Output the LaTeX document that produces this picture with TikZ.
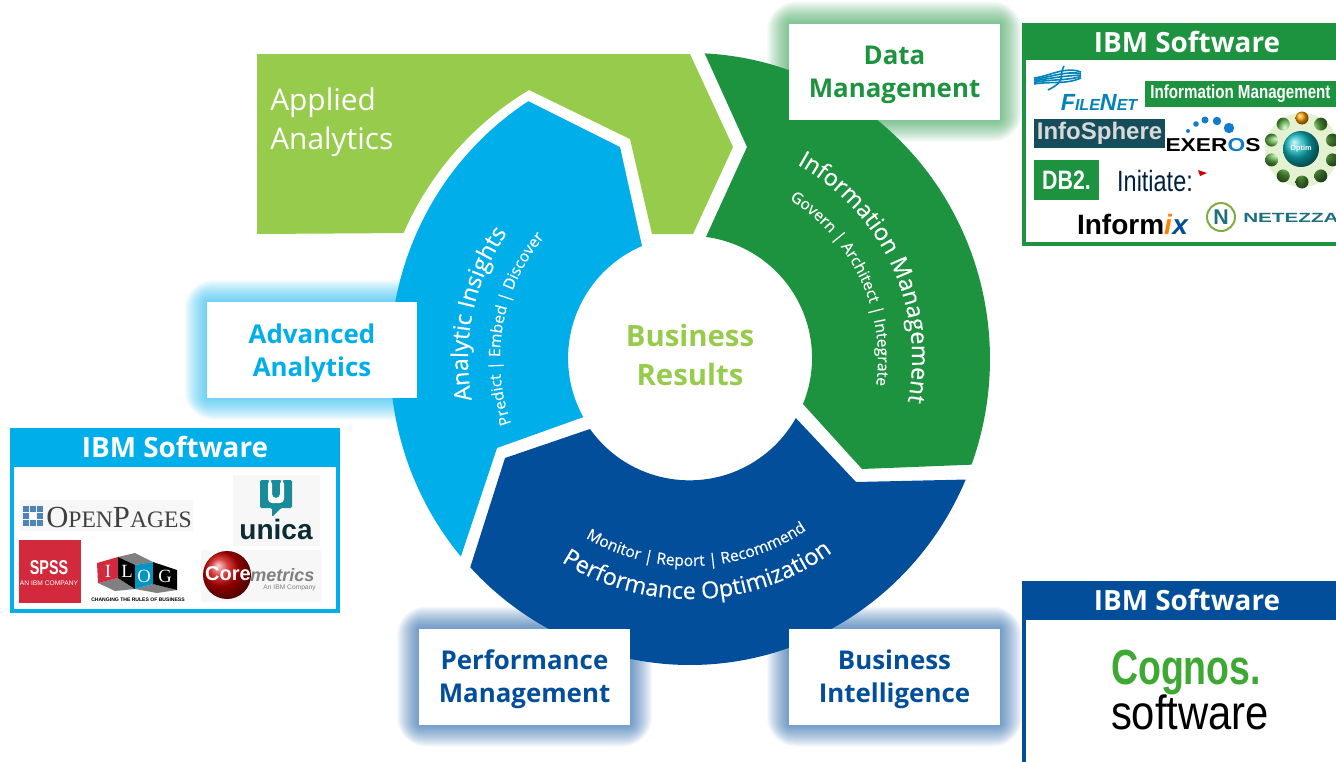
\documentclass[tikz,border=0pt]{standalone}
\usepackage{fontspec}
\setmainfont{Open Sans}
\newfontfamily\logoSans{Liberation Sans}
\newfontfamily\logoSerif{Liberation Serif}
\newfontfamily\arcFont{Open Sans}[FakeBold=0.35]
\usetikzlibrary{decorations.text}
\definecolor{colorLime}{RGB}{151, 203, 76}
\definecolor{colorGreen}{RGB}{29, 147, 64}
\definecolor{colorSky}{RGB}{0, 174, 234}
\definecolor{colorNavy}{RGB}{3, 78, 155}
\definecolor{colorTeal}{RGB}{30, 111, 128}
\definecolor{colorRed}{RGB}{210, 41, 60}
\newcommand{\arcBig}{\color{white}\arcFont\fontsize{17.5}{18}\selectfont}
\newcommand{\arcSmall}{\color{white}\arcFont\fontsize{11.7}{12}\selectfont}
\tikzstyle{labelbox} = [rectangle, fill=white, minimum width=158pt, minimum height=72pt, inner sep=0pt, text depth=0pt, align=center, font=\fontsize{19.4}{24.75}\selectfont\bfseries]
\tikzstyle{header} = [text=white, inner sep=0pt, font=\fontsize{20.9}{24}\selectfont\bfseries]
\tikzstyle{logobox} = [inner sep=0pt, font=\logoSans\bfseries]
\tikzstyle{arctext} = [decorate, decoration={text along path, text align=center, text format delimiters={<}{>}}]
\begin{document}
\begin{tikzpicture}[x=0.75pt, y=-0.75pt]

	\useasboundingbox (0,0) rectangle (1336,761);
	\clip (0,0) rectangle (1336,761);
	\coordinate (ctr) at (690,359);

	% applied analytics arrow
	\fill[colorLime] (257,54) -- (690,54) -- (733,147) -- (693,234) -- (652,234) -- (630,139) -- (529,90)
		arc[start angle=239, end angle=203.5, radius=312] -- (257,234) -- cycle;

	% the three ring segments
	\fill[colorGreen] (ctr) ++(-87.2:300 and 306) arc[start angle=-87.2, end angle=20.2, x radius=300, y radius=306]
		-- (862,469) -- (803,404) arc[start angle=22.2, end angle=-82.5, radius=122] -- (747,147) -- cycle;
	\fill[colorNavy] (ctr) ++(23.2:300 and 306) arc[start angle=23.2, end angle=137.1, x radius=300, y radius=306]
		-- (505,458) -- (590,429) arc[start angle=144.6, end angle=29.3, radius=122] -- (856,482) -- cycle;
	\fill[colorSky] (ctr) ++(139.8:300 and 306) arc[start angle=139.8, end angle=237.4, x radius=300, y radius=306]
		-- (620,147) -- (642,246) arc[start angle=246.8, end angle=151.1, radius=122] -- (497,448) -- cycle;

	% text on the ring
	\path[arctext, shift={(ctr)}, decoration={text={<\arcBig>Information Management}}]
		(-85:222) arc[start angle=-85, end angle=35, radius=222];
	\path[arctext, shift={(ctr)}, decoration={text={<\arcSmall>Govern | Architect | Integrate}}]
		(-85:188) arc[start angle=-85, end angle=35, radius=188];
	\path[arctext, shift={(ctr)}, decoration={text={<\arcBig>Analytic Insights}}]
		(132:222) arc[start angle=132, end angle=252, radius=222];
	\path[arctext, shift={(ctr)}, decoration={text={<\arcSmall>Predict | Embed | Discover}}]
		(130:190) arc[start angle=130, end angle=250, radius=190];
	\path[arctext, shift={(ctr)}, decoration={text={<\arcBig>Performance Optimization}}]
		(148:240) arc[start angle=148, end angle=28, radius=240];
	\path[arctext, shift={(ctr)}, decoration={text={<\arcSmall>Monitor | Report | Recommend}}]
		(148:207) arc[start angle=148, end angle=28, radius=207];

	% centre
	\node (nResults) [text=colorLime, align=center, inner sep=0pt, font=\fontsize{22}{29.5}\selectfont\bfseries] at (690,355) {Business \\ Results};
	\node (nApplied) [text=white, align=left, anchor=west, inner sep=0pt, font=\fontsize{22.4}{29.5}\selectfont] at (270,122) {Applied \\ Analytics};

	% glow behind the label boxes
	\foreach \cx/\cy/\cc in {894.5/71.5/colorGreen, 312/350/colorSky, 524.5/676.5/colorNavy, 894.5/676.5/colorNavy}
		\foreach \k [evaluate=\k as \g using 1+\k*\k/27] in {1,...,22}
			\fill[\cc, opacity=0.035, rounded corners=\g] (\cx,\cy) ++(-105.5-\g,-48-\g) rectangle ++(211+2*\g,96+2*\g);

	\node (bData) [labelbox, text=colorGreen] at (894.5,71.5) {Data \\ Management};
	\node (bAdvanced) [labelbox, text=colorSky] at (312,350) {Advanced \\ Analytics};
	\node (bPerformance) [labelbox, text=colorNavy] at (524.5,676.5) {Performance \\ Management};
	\node (bBusiness) [labelbox, text=colorNavy] at (894.5,676.5) {Business \\ Intelligence};

	% ibm software panels
	\draw[colorGreen, line width=3pt, fill=white] (1024,25) rectangle (1346,244);
	\fill[colorGreen] (1022,23) rectangle (1346,60);
	\node (hGreen) [header] at (1187,42) {IBM Software};
	\draw[colorSky, line width=3pt, fill=white] (12,430) rectangle (338,611);
	\fill[colorSky] (10,428) rectangle (340,467);
	\node (hSky) [header] at (175,447) {IBM Software};
	\draw[colorNavy, line width=3pt, fill=white] (1024,583) rectangle (1346,771);
	\fill[colorNavy] (1022,581) rectangle (1346,620);
	\node (hNavy) [header] at (1187,600) {IBM Software};

	% cognos
	\node (lCognos) [logobox, text=colorGreen!80!lime, font=\logoSans\bfseries\fontsize{37}{37}\selectfont] at (1186,672) {\scalebox{.76}[1]{Cognos.}};
	\node (lSoftware) [logobox, text=black, font=\logoSans\fontsize{36}{36}\selectfont] at (1190,712) {\scalebox{.87}[1]{software}};

	% information management logos
	\foreach \dy/\bend in {-6/4, -3/2, 0/0, 3/-2, 6/-3}
		\draw[colorNavy!70!cyan, line width=1.2pt] (1034,81+\dy/2) .. controls (1050,78+\dy+\bend) and (1065,76+\dy-\bend) .. (1081,75+\dy/2);
	\draw[colorNavy!70!cyan, line width=1.2pt] (1064,66) .. controls (1058,76) and (1068,80) .. (1048,90);
	\node (lFileNet) [logobox, text=colorNavy!70!cyan, font=\logoSans\bfseries\itshape\fontsize{12}{12}\selectfont] at (1099,102) {{\fontsize{17.5}{17.5}\selectfont F}ILE{\fontsize{17.5}{17.5}\selectfont N}ET};
	\node (lInfoMgmt) [logobox, fill=colorGreen, text=white, minimum width=143pt, minimum height=19.5pt, font=\logoSans\bfseries\fontsize{14.2}{14.2}\selectfont] at (1240.5,94) {\scalebox{.8}[1]{Information Management}};
	\node (lInfoSphere) [logobox, fill=colorTeal!70!black, text=white!85!black, minimum width=98pt, minimum height=22pt, font=\logoSans\bfseries\fontsize{18}{18}\selectfont] at (1099.5,133.5) {InfoSphere};
	\node (lExeros) [logobox, text=black, font=\logoSans\bfseries\fontsize{14}{14}\selectfont] at (1213,145) {\scalebox{1.22}[1]{EXER\textcolor{cyan!60!blue}{O}S}};
	\foreach \px/\py/\pr in {1188/131/2, 1196/124/2.8, 1205/120/3.5, 1217/121/4.2, 1229/128/5.2}
		\fill[cyan!60!blue] (\px,\py) circle[radius=\pr];
	\fill[colorLime!25] (1302,150) circle[radius=37];
	\foreach \a in {-54,-18,...,234}
		\shade[ball color=colorLime!55!colorGreen] (1302,150) ++(\a:32) circle[radius=6.5];
	\shade[ball color=orange!80!yellow] (1302,118) circle[radius=6.5];
	\shade[ball color=colorTeal!50!cyan] (1301,149) circle[radius=18];
	\node (lOptim) [logobox, text=white, font=\logoSans\bfseries\fontsize{5.5}{5.5}\selectfont] at (1301,149) {Optim};
	\node (lDB) [logobox, fill=colorGreen, text=white, minimum width=49pt, minimum height=30pt, font=\logoSans\bfseries\fontsize{20}{20}\selectfont] at (1066.5,180) {\scalebox{.8}[1]{DB2.}};
	\node (lInitiate) [logobox, text=colorNavy!40!black, font=\logoSans\fontsize{22}{22}\selectfont] at (1155,181) {\scalebox{.8}[1]{Initiate:}};
	\fill[red!80!black] (1198,170) -- (1207,173) -- (1200,176) -- cycle;
	\node (lInformix) [logobox, text=black, font=\logoSans\bfseries\fontsize{21}{21}\selectfont] at (1133,224) {Inform\textcolor{orange}{\textit{i}}\textcolor{colorNavy}{\textit{x}}};
	\draw[colorLime!85!black, line width=1.5pt, fill=white] (1221,217) circle[radius=14];
	\node (lNLetter) [logobox, text=colorTeal, font=\logoSans\bfseries\fontsize{16}{16}\selectfont] at (1221,217) {N};
	\node (lNetezza) [logobox, anchor=west, text=colorTeal, font=\logoSans\bfseries\fontsize{10}{10}\selectfont] at (1243,218) {\scalebox{1.55}[1]{NETEZZA}};

	% advanced analytics logos
	\fill[gray!6] (20,500) rectangle (193,531);
	\foreach \px in {23,30,37}
		\foreach \py in {506,513,520}
			\fill[colorNavy!70!white] (\px,\py) rectangle ++(6,6);
	\fill[white] (30,513) rectangle ++(6,6);
	\node (lOpenPages) [logobox, anchor=west, text=black!75, font=\logoSerif\fontsize{17.7}{17.7}\selectfont] at (46,517) {{\fontsize{23}{23}\selectfont O}PEN{\fontsize{23}{23}\selectfont P}AGES};
	\fill[gray!6] (233,475) rectangle (320,546);
	\fill[colorTeal!80!cyan, rounded corners=1pt] (260,480) -- (292,480) -- (292,508) -- (281,508) -- (272,517) -- (272,508) -- (260,508) -- cycle;
	\fill[white, rounded corners=3pt] (268,480) -- (268,503) -- (284,503) -- (284,480) -- (280,480) -- (280,498) -- (272,498) -- (272,480) -- cycle;
	\node (lUnica) [logobox, text=black!60!colorTeal, font=\logoSans\bfseries\fontsize{21}{21}\selectfont] at (276,529) {unica};
	\node (lSPSS) [logobox, fill=colorRed, text=white, minimum width=46.5pt, minimum height=47pt] at (50,571.5) {};
	\node (lSPSSname) [logobox, text=white, font=\logoSans\bfseries\fontsize{15}{15}\selectfont] at (49,568) {\scalebox{.72}[1]{SPSS}};
	\node (lSPSSsub) [logobox, text=white, font=\logoSans\fontsize{5}{5}\selectfont] at (49,583) {AN IBM COMPANY};
	% ilog cube faces
	\fill[gray] (118,557) -- (135,553) -- (153,562) -- (135,565) -- cycle;
	\fill[gray] (98,583) -- (118,578) -- (135,589) -- (115,591) -- cycle;
	\fill[gray] (153,584) -- (177,590) -- (157,593) -- (135,589) -- cycle;
	\fill[colorRed] (97,563) -- (118,557) -- (118,578) -- (98,583) -- cycle;
	\fill[black] (118,557) -- (135,565) -- (135,589) -- (118,578) -- cycle;
	\fill[colorNavy!60!cyan] (135,565) -- (153,562) -- (153,584) -- (135,589) -- cycle;
	\fill[black] (153,562) -- (177,570) -- (177,590) -- (153,584) -- cycle;
	\node (lCubeI) [logobox, text=white, font=\logoSerif\fontsize{14}{14}\selectfont] at (108,571) {I};
	\node (lCubeL) [logobox, text=white, font=\logoSerif\fontsize{14}{14}\selectfont] at (127,571) {L};
	\node (lCubeO) [logobox, text=white, font=\logoSerif\fontsize{14}{14}\selectfont] at (144,576) {O};
	\node (lCubeG) [logobox, text=white, font=\logoSerif\fontsize{14}{14}\selectfont] at (165,576) {G};
	\node (lIlogSub) [logobox, text=black, font=\logoSans\bfseries\fontsize{3.8}{3.8}\selectfont] at (138,600) {CHANGING THE RULES OF BUSINESS};
	\fill[gray!6] (201,550) rectangle (322,602);
	\shade[ball color=red!80!black] (227,575) circle[radius=24];
	\node (lCore) [logobox, text=white, font=\logoSans\bfseries\fontsize{15}{15}\selectfont] at (228,574) {Core};
	\node (lMetrics) [logobox, anchor=west, text=gray, font=\logoSans\bfseries\itshape\fontsize{13.5}{13.5}\selectfont] at (250,575) {metrics};
	\node (lIbmCo) [logobox, anchor=east, text=gray, font=\logoSans\fontsize{5}{5}\selectfont] at (316,588) {An IBM Company};

\end{tikzpicture}
\end{document}
